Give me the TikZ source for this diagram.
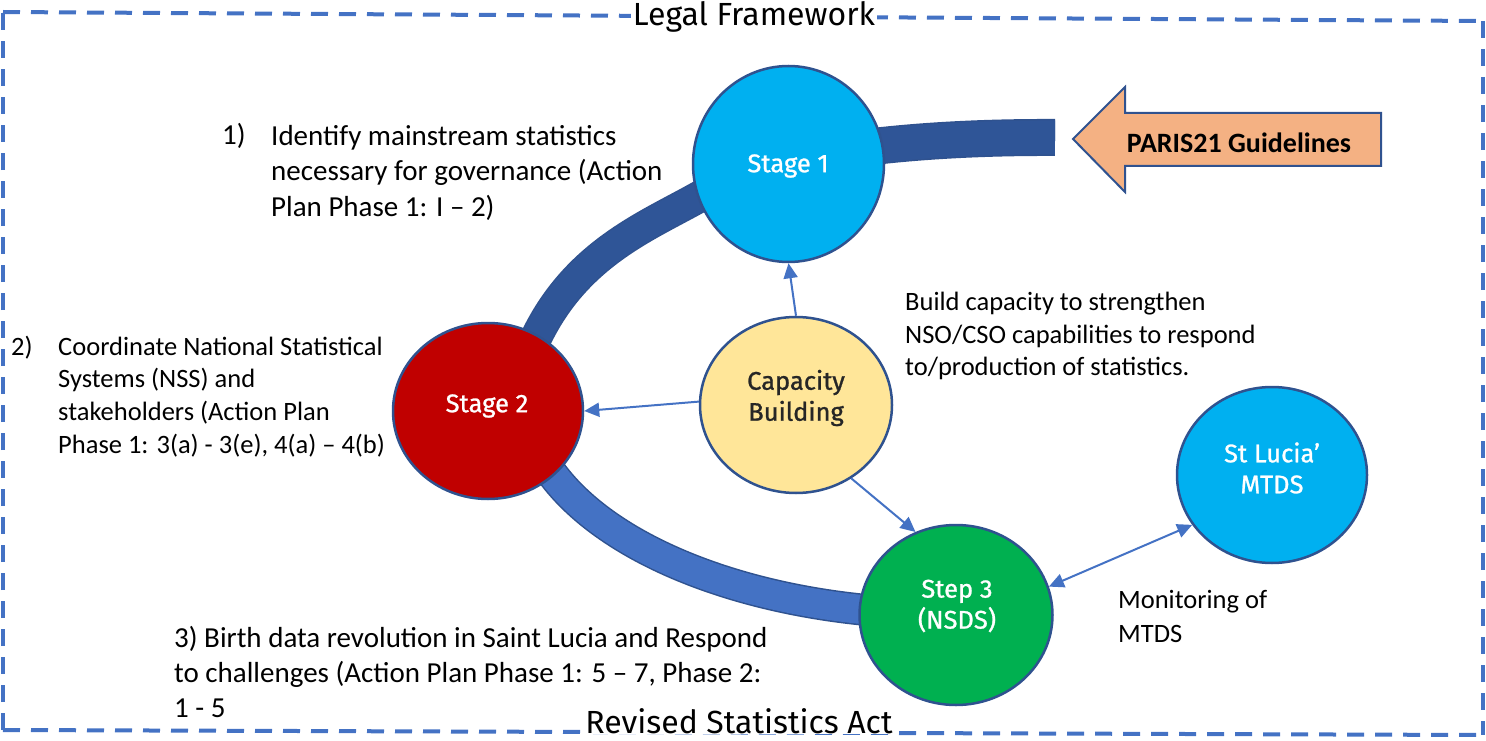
\documentclass[tikz,border=0pt]{standalone}
\usepackage{fontspec}
\setmainfont{Carlito}
\newfontfamily\fira{Fira Sans}
\newfontfamily\firab{Fira Sans}[FakeBold=1]
\usetikzlibrary{shapes.geometric,arrows.meta}
\definecolor{cyanf}{HTML}{00B0F0}
\definecolor{redf}{HTML}{C00000}
\definecolor{yelf}{HTML}{FFE699}
\definecolor{grnf}{HTML}{00B050}
\definecolor{bord}{HTML}{2F528F}
\definecolor{bandA}{HTML}{2F5597}
\definecolor{bandB}{HTML}{4472C4}
\definecolor{abl}{HTML}{4472C4}
\definecolor{orgf}{HTML}{F4B183}
\begin{document}
\begin{tikzpicture}[x=1pt,y=-1pt,
  blob/.style={ellipse, draw=bord, line width=2.5pt, inner sep=0pt},
  clbl/.style={font=\firab\fontsize{25.5}{31}\selectfont, align=center, inner sep=0pt},
  conn/.style={draw=abl, line width=2pt, -{Triangle[length=15pt,width=14pt]}},
  dconn/.style={draw=abl, line width=2pt, {Triangle[length=15pt,width=14pt]}-{Triangle[length=15pt,width=14pt]}},
  txt/.style={anchor=north west, inner sep=0pt, align=left, text=black},
  frame/.style={draw=abl, line width=4pt, dash pattern=on 17pt off 11pt},
  ttl/.style={font=\fira\fontsize{32}{38}\selectfont, fill=white, inner sep=2pt, anchor=base}
]
\useasboundingbox (0,0) rectangle (1486,741);
% frame
\coordinate (tl) at (3,12);
\coordinate (tr) at (1483,21);
\coordinate (br) at (1483,735);
\coordinate (bl) at (3,730);
\draw[frame] (tl) -- (tr);
\draw[frame] (tr) -- (br);
\draw[frame] (bl) -- (br);
\draw[frame] (bl) -- (tl);
\node[ttl] (legal) at (754,26) {Legal Framework};
\node[ttl, inner sep=1pt] (revised) at (739,733) {Revised Statistics Act};

% bands
\draw[bord, line width=37pt] (1055,137.5) .. controls (950,137) and (830,145) .. (745,172);
\draw[bandA, line width=34pt] (1055,137.5) .. controls (950,137) and (830,145) .. (745,172);
\draw[bord, line width=32pt] (745,172) -- (697,198) .. controls (645,227) and (575,255) .. (535,340);
\draw[bandA, line width=29pt] (745,172) -- (697,198) .. controls (645,227) and (575,255) .. (535,340);
\draw[bord, line width=32pt] (540,455) .. controls (590,545) and (740,606) .. (910,613);
\draw[bandB, line width=29pt] (540,455) .. controls (590,545) and (740,606) .. (910,613);

% PARIS21 arrow
\draw[bord, line width=2pt, fill=orgf, line join=miter] (1073,139) -- (1125,87) -- (1125,113) -- (1381,113) -- (1381,166) -- (1125,166) -- (1125,192) -- cycle;
\node[font=\bfseries\fontsize{28}{34}\selectfont, anchor=base, inner sep=0pt] (paris) at (1239,153) {PARIS21 Guidelines};

% circles
\node[blob, fill=cyanf, minimum width=191pt, minimum height=196pt] (s1) at (788.5,164) {};
\node[blob, fill=redf, minimum width=190pt, minimum height=176pt] (s2) at (488,411) {};
\node[blob, fill=yelf, minimum width=192pt, minimum height=176pt] (cap) at (796,405) {};
\node[blob, fill=grnf, minimum width=193pt, minimum height=180pt] (s3) at (956,615) {};
\node[blob, fill=cyanf, minimum width=190pt, minimum height=176pt] (mtds) at (1272,475) {};

\node[clbl, text=white] (s1t) at (788,166) {Stage 1};
\node[clbl, text=white] (s2t) at (487,406) {Stage 2};
\node[clbl, text=black!85] (capt) at (796,398) {Capacity\\Building};
\node[clbl, text=white] (s3t) at (957,606) {Step 3\\(NSDS)};
\node[clbl, text=white] (mtdst) at (1272,468) {St Lucia’\\MTDS};

% connectors
\draw[conn] (cap.north) -- (s1.south);
\draw[conn] (cap.178) -- (s2.east);
\draw[conn] (cap.-53.5) -- (s3.116.6);
\draw[dconn] (s3.17) -- (mtds.212);

% texts
\node[anchor=base west, inner sep=0pt, font=\fontsize{29}{35.5}\selectfont] (n1) at (222,145) {1)};
\node[txt, font=\fontsize{29}{35.5}\selectfont] (t1) at (271,120.2) {\strut Identify mainstream statistics\\necessary for governance (Action\\Plan Phase 1: I – 2)};
\node[anchor=base west, inner sep=0pt, font=\fontsize{26.5}{32.7}\selectfont] (n2) at (11,355) {2)};
\node[txt, font=\fontsize{26.5}{32.7}\selectfont] (t2) at (58,332.1) {\strut Coordinate National Statistical\\Systems (NSS) and\\stakeholders (Action Plan\\Phase 1: 3(a) - 3(e), 4(a) – 4(b)};
\node[txt, font=\fontsize{29}{35}\selectfont] (t3) at (174,622.5) {\strut 3) Birth data revolution in Saint Lucia and Respond\\to challenges (Action Plan Phase 1: 5 – 7, Phase 2:\\1 - 5};
\node[txt, font=\fontsize{26.5}{32.5}\selectfont] (tb) at (905,288) {\strut Build capacity to strengthen\\NSO/CSO capabilities to respond\\to/production of statistics.};
\node[txt, font=\fontsize{26.5}{34}\selectfont] (tm) at (1118,584) {\strut Monitoring of\\MTDS};
\end{tikzpicture}
\end{document}
